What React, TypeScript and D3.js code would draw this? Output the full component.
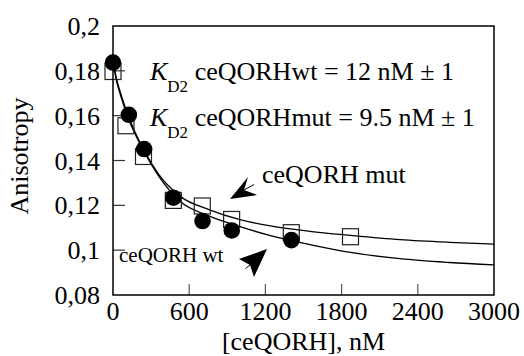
import React from 'react';
import * as d3 from 'd3';

// Measured points (filled circles = wt, open squares = mut)
const wtConc = [0, 125, 245, 475, 705, 935, 1405];
const wtAniso = [0.1837, 0.1604, 0.1451, 0.1234, 0.113, 0.1088, 0.1045];
const mutConc = [0, 102, 240, 475, 703, 934, 1404, 1870];
const mutAniso = [0.1797, 0.1555, 0.1418, 0.1222, 0.1197, 0.1137, 0.1078, 0.106];

// Fitted curves
const fitConc = [0, 30, 60, 120, 240, 360, 530, 760, 1000, 1240, 1550, 1870, 2260, 2650, 3000];
const wtFit = [0.184, 0.175, 0.169, 0.159, 0.1445, 0.133, 0.1217, 0.1152, 0.1105, 0.1065, 0.1025, 0.099, 0.0962, 0.0945, 0.0934];
const mutFit = [0.184, 0.176, 0.17, 0.16, 0.145, 0.1338, 0.124, 0.118, 0.1136, 0.1108, 0.1084, 0.1066, 0.1047, 0.1035, 0.1027];

const xTicks = [0, 600, 1200, 1800, 2400, 3000];
const yTicks = [0.08, 0.1, 0.12, 0.14, 0.16, 0.18, 0.2];

const W = 524;
const H = 356;
const margin = { left: 113, right: 30, top: 26, bottom: 61 };
const serif = "Liberation Serif, Tinos, Times New Roman, Times, Nimbus Roman, FreeSerif, Noto Serif, DejaVu Serif, serif";

const fmtY = (v: number) => String(+v.toFixed(2)).replace('.', ',');

const App: React.FC = () => {
  const x = d3.scaleLinear().domain([0, 3000]).range([margin.left, W - margin.right]);
  const y = d3.scaleLinear().domain([0.08, 0.2]).range([H - margin.bottom, margin.top]);

  const line = d3.line<number>()
    .x((_, i) => x(fitConc[i]))
    .y(d => y(d))
    .curve(d3.curveMonotoneX);

  const x0 = x.range()[0], x1 = x.range()[1];
  const y0 = y.range()[0], y1 = y.range()[1];

  return (
    <div style={{ position: 'fixed', left: 0, top: 0 }}>
      <svg width={W} height={H} style={{ display: 'block', background: '#fff' }}>
        {/* ticks, inward */}
        {yTicks.filter(t => t > 0.08 && t < 0.2).map(t => (
          <line key={'yt' + t} x1={x0} x2={x0 + 12} y1={y(t)} y2={y(t)} stroke="#333" strokeWidth={1.2} />
        ))}
        {xTicks.filter(t => t > 0 && t < 3000).map(t => (
          <line key={'xt' + t} x1={x(t)} x2={x(t)} y1={y0} y2={y0 - 11} stroke="#555" strokeWidth={1.2} />
        ))}

        {/* fits */}
        <path d={line(mutFit) || ''} fill="none" stroke="#000" strokeWidth={1.3} />
        <path d={line(wtFit) || ''} fill="none" stroke="#000" strokeWidth={1.3} />

        {/* points */}
        {mutConc.map((c, i) => (
          <rect key={'m' + i} x={x(c) - 8} y={y(mutAniso[i]) - 8} width={16} height={16}
            fill="none" stroke="#222" strokeWidth={1.2} />
        ))}
        {wtConc.map((c, i) => (
          <circle key={'w' + i} cx={x(c)} cy={y(wtAniso[i])} r={8.3} fill="#000" />
        ))}

        {/* frame */}
        <rect x={x0} y={y1} width={x1 - x0} height={y0 - y1} fill="none" stroke="#000" strokeWidth={1.5} />

        <g fontFamily={serif}>
          {/* tick labels */}
          {yTicks.map(t => (
            <text key={'yl' + t} x={100} y={y(t)} dy="0.35em" textAnchor="end" fontSize={26}>{fmtY(t)}</text>
          ))}
          {xTicks.map(t => (
            <text key={'xl' + t} x={x(t)} y={320} textAnchor="middle" fontSize={26}>{t}</text>
          ))}

          {/* axis titles */}
          <text x={(x0 + x1) / 2} y={350} textAnchor="middle" fontSize={26}>[ceQORH], nM</text>
          <text transform="translate(28,156) rotate(-90)" textAnchor="middle" fontSize={26}>Anisotropy</text>

          {/* annotations */}
          <text x={150} y={80} fontSize={26}>
            <tspan fontStyle="italic">K</tspan>
            <tspan fontSize={17} dy={12}>D2</tspan>
            <tspan dy={-12}> ceQORHwt = 12 nM ± 1</tspan>
          </text>
          <text x={150} y={126} fontSize={26}>
            <tspan fontStyle="italic">K</tspan>
            <tspan fontSize={17} dy={12}>D2</tspan>
            <tspan dy={-12}> ceQORHmut = 9.5 nM ± 1</tspan>
          </text>
          <text x={262} y={183} fontSize={26}>ceQORH mut</text>
          <text x={119} y={262} fontSize={21}>ceQORH wt</text>
        </g>

        {/* arrows */}
        <path d="M230,199 L248,177 L244,190 L257,195 Z" fill="#000" />
        <line x1={244} y1={190} x2={254} y2={184.5} stroke="#000" strokeWidth={1} />
        <path d="M267,249 L239,259 L250,265 L254,277 Z" fill="#000" />
        <line x1={250} y1={265} x2={245.5} y2={268.5} stroke="#000" strokeWidth={1} />
      </svg>
    </div>
  );
};

export default App;
